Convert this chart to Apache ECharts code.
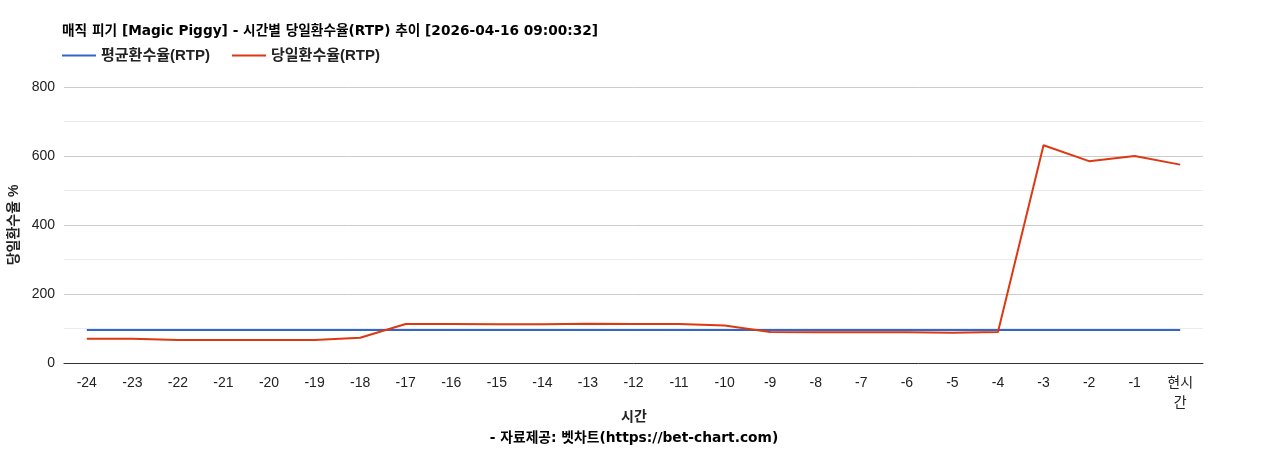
<!DOCTYPE html>
<html>
<head>
<meta charset="UTF-8">
<title>RTP chart</title>
<script src="https://cdn.jsdelivr.net/npm/echarts@6/dist/echarts.min.js"></script>
<style>
  html, body { margin: 0; padding: 0; background: #fff; }
  #main { width: 1268px; height: 450px; }
</style>
</head>
<body>
<div id="main"></div>
<script type="text/javascript">
// 시간 카테고리
var hours = ['-24','-23','-22','-21','-20','-19','-18','-17','-16','-15','-14','-13','-12',
             '-11','-10','-9','-8','-7','-6','-5','-4','-3','-2','-1','현시간'];
// 평균환수율(RTP)
var avgRtp = [96,96,96,96,96,96,96,96,96,96,96,96,96,96,96,96,96,96,96,96,96,96,96,96,96];
// 당일환수율(RTP)
var dayRtp = [70,70,67,67,67,67,73,113,113,112,112,114,113,113,109,90,89,89,89,88,90,631,585,600,575];
var yTicks = [0, 200, 400, 600, 800];

var font = '"Liberation Sans", Arial, "Noto Sans CJK KR", sans-serif';
var titleFont = '"DejaVu Sans", "Noto Sans CJK KR", sans-serif';
var myChart = echarts.init(document.getElementById('main'));

var option = {
    textStyle: { fontFamily: font },
    title: [{
        text: '매직 피기 [Magic Piggy] - 시간별 당일환수율(RTP) 추이 [2026-04-16 09:00:32]',
        left: 57, top: 20,
        textStyle: { fontSize: 13.7, fontWeight: 'bold', color: '#000', fontFamily: titleFont }
    }, {
        text: '시간',
        left: 'center', top: 405,
        textStyle: { fontSize: 14, fontWeight: 'bold', color: '#222', fontFamily: font }
    }, {
        text: '- 자료제공: 벳차트(https://bet-chart.com)',
        left: 'center', top: 427,
        textStyle: { fontSize: 13.8, fontWeight: 'bold', color: '#000', fontFamily: titleFont }
    }],
    legend: {
        left: 62, top: 48, padding: 0,
        icon: 'rect',
        itemWidth: 34, itemHeight: 2, itemGap: 22,
        textStyle: { fontSize: 15, fontWeight: 'bold', color: '#222', fontFamily: font },
        data: ['평균환수율(RTP)', '당일환수율(RTP)']
    },
    grid: { left: 64, right: 65, top: 87, bottom: 87, outerBoundsMode: 'none' },
    xAxis: {
        type: 'category',
        data: hours,
        boundaryGap: true,
        axisLine: { lineStyle: { color: '#333', width: 1 } },
        axisTick: { show: false },
        axisLabel: {
            color: '#222', fontSize: 14, margin: 10, interval: 0, lineHeight: 20,
            formatter: function (v) { return v === '현시간' ? '현시\n간' : v; }
        }
    },
    yAxis: {
        type: 'value',
        min: 0, max: 800, interval: 200,
        name: '당일환수율 %',
        nameLocation: 'middle',
        nameGap: 38,
        nameTextStyle: { fontSize: 14, fontWeight: 'bold', color: '#222' },
        axisLine: { show: false },
        axisTick: { show: false },
        axisLabel: {
            color: '#222', fontSize: 14, margin: 9,
            formatter: function (v) { return yTicks.indexOf(v) >= 0 ? String(v) : ''; }
        },
        splitLine: { lineStyle: { color: '#cccccc' } },
        minorTick: { show: false, splitNumber: 2 },
        minorSplitLine: { show: true, lineStyle: { color: '#ebebeb' } }
    },
    series: [{
        name: '평균환수율(RTP)',
        type: 'line',
        data: avgRtp,
        symbol: 'none',
        lineStyle: { color: '#3366cc', width: 2 },
        itemStyle: { color: '#3366cc' }
    }, {
        name: '당일환수율(RTP)',
        type: 'line',
        data: dayRtp,
        symbol: 'none',
        lineStyle: { color: '#dc3912', width: 2 },
        itemStyle: { color: '#dc3912' }
    }]
};

myChart.setOption(option);
</script>
</body>
</html>
